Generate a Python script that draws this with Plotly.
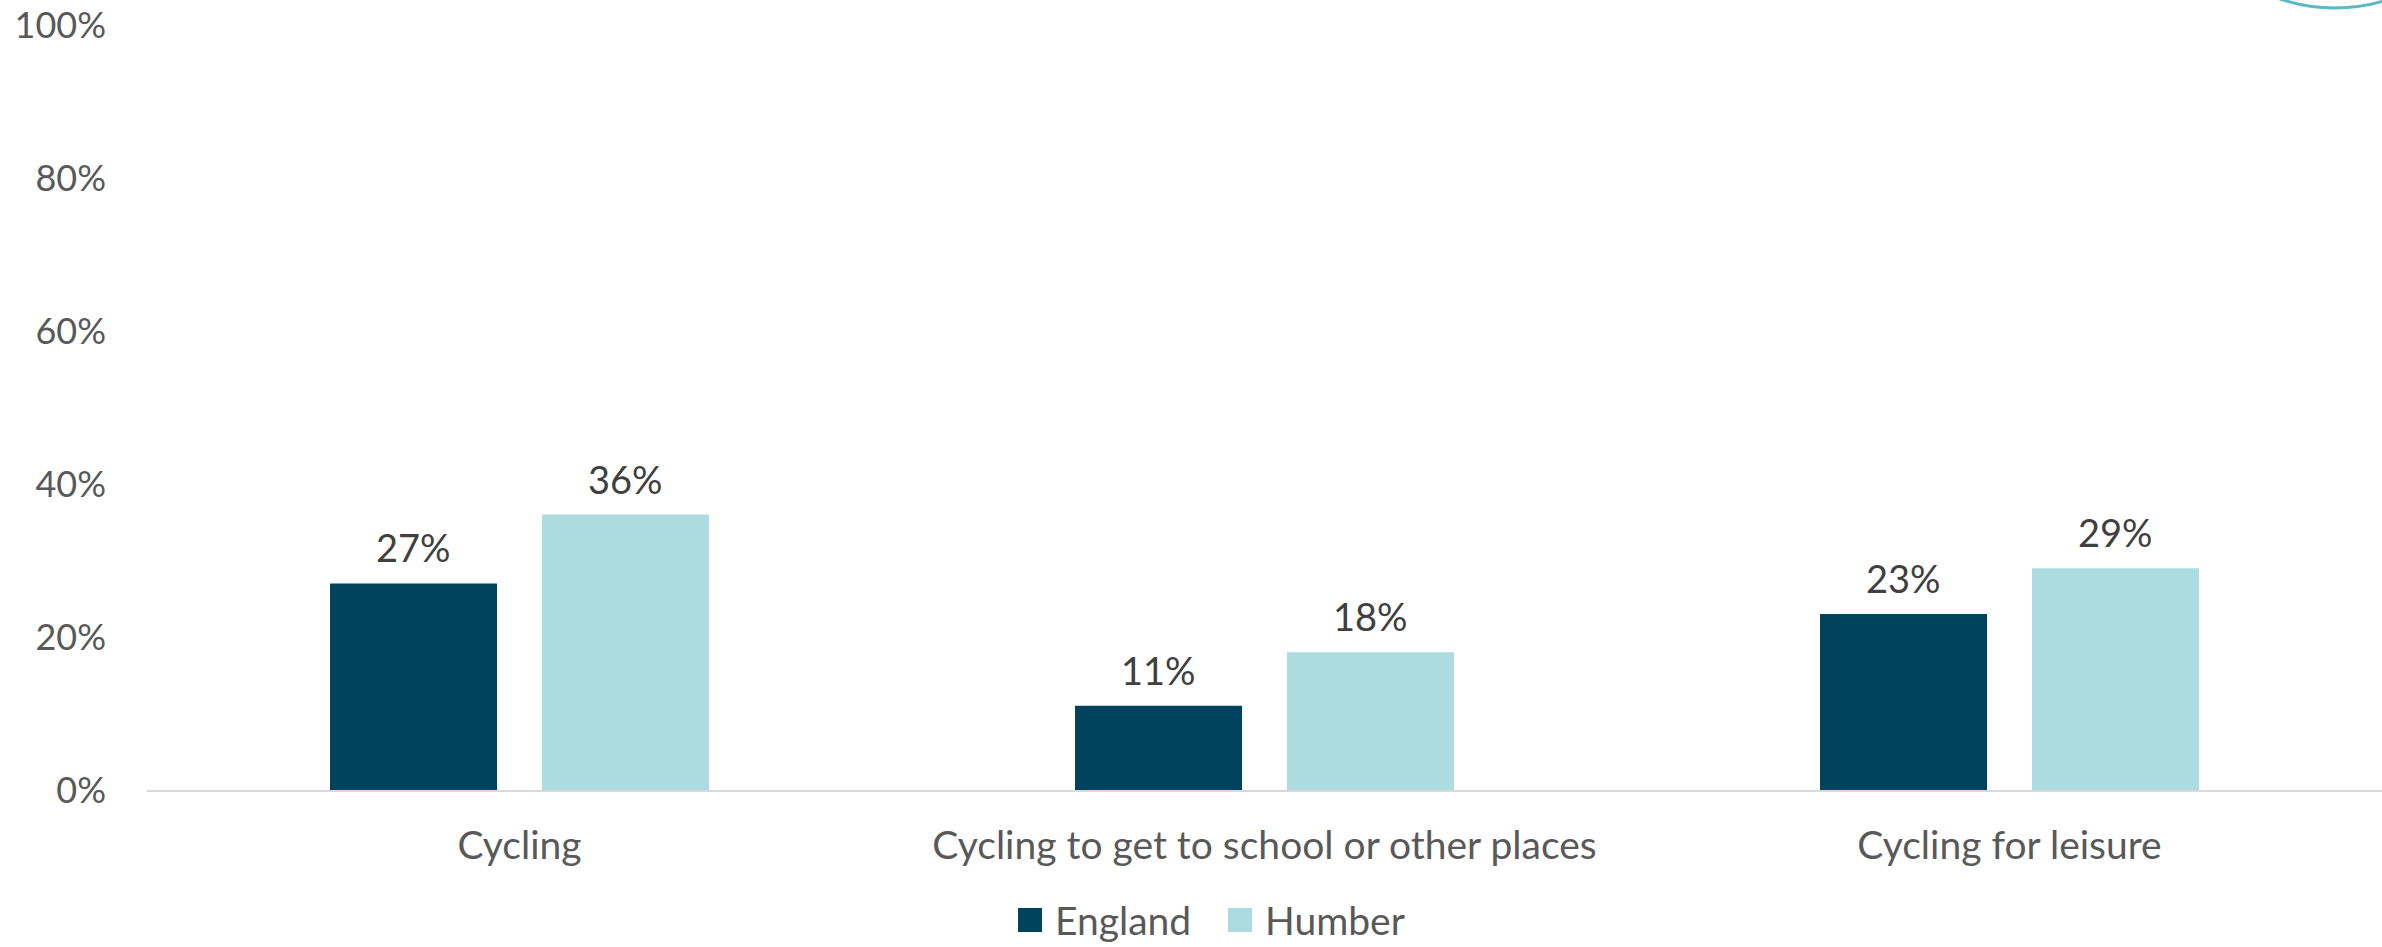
import plotly.graph_objects as go

# Share of children cycling, by activity
categories = ["Cycling", "Cycling to get to school or other places", "Cycling for leisure"]
england = [27, 11, 23]
humber = [36, 18, 29]
series_names = ["England", "Humber"]
y_ticks = [0, 20, 40, 60, 80, 100]
y_tick_labels = ["0%", "20%", "40%", "60%", "80%", "100%"]

W, H = 2382, 947
ML, MR, MT, MB = 147, 0, 25, 157
BARGAP, BARGROUPGAP = 0.431, 0.212

FONT = "Lato, 'Open Sans', sans-serif"
COLORS = ["#01435E", "#ADDCE0"]

fig = go.Figure()
for name, values, color in zip(series_names, [england, humber], COLORS):
    fig.add_trace(go.Bar(
        name=name, x=categories, y=values,
        marker=dict(color=color, line=dict(width=0)),
        showlegend=False, hoverinfo="x+y",
    ))

# Value labels above each bar, centred on the bar's slot within its group
slot = (1 - BARGAP) / len(series_names)
for s, values in enumerate([england, humber]):
    offset = -((1 - BARGAP) / 2) + slot * (s + 0.5)
    for i, v in enumerate(values):
        fig.add_annotation(
            x=i + offset, y=v, xref="x", yref="y",
            text=f"{v}%", showarrow=False,
            xanchor="center", yanchor="middle", yshift=36,
            font=dict(family=FONT, size=38, color="#404040"),
        )


def px_to_paper_x(px):
    return (px - ML) / (W - ML - MR)


def px_to_paper_y(py):
    return (H - MB - py) / (H - MT - MB)


# Legend: square swatch followed by series name
legend_items = [(1018, "England", COLORS[0]), (1228, "Humber", COLORS[1])]
for left, label, color in legend_items:
    fig.add_shape(
        type="rect", xref="paper", yref="paper",
        x0=px_to_paper_x(left), x1=px_to_paper_x(left + 24),
        y0=px_to_paper_y(932), y1=px_to_paper_y(908),
        fillcolor=color, line=dict(width=0),
    )
    fig.add_annotation(
        x=px_to_paper_x(left + 35), y=px_to_paper_y(920),
        xref="paper", yref="paper", text=label, showarrow=False,
        xanchor="left", yanchor="middle",
        font=dict(family=FONT, size=39, color="#595959"),
    )

# Partial ring of the logo peeking in at the top right corner
fig.add_shape(
    type="circle", xref="paper", yref="paper",
    x0=px_to_paper_x(2162), x1=px_to_paper_x(2508),
    y0=px_to_paper_y(8), y1=px_to_paper_y(-338),
    line=dict(color="#5BB8C6", width=3), fillcolor="rgba(0,0,0,0)",
)

fig.update_layout(
    width=W, height=H,
    margin=dict(l=ML, r=MR, t=MT, b=MB, pad=0, autoexpand=False),
    paper_bgcolor="white", plot_bgcolor="white",
    barmode="group", bargap=BARGAP, bargroupgap=BARGROUPGAP,
    font=dict(family=FONT, size=36, color="#595959"),
    showlegend=False,
    xaxis=dict(
        showgrid=False, showline=True, linecolor="#D9D9D9", linewidth=2,
        ticks="", tickfont=dict(family=FONT, size=39, color="#595959"),
        ticklabelstandoff=20, fixedrange=True, automargin=False,
    ),
    yaxis=dict(
        range=[0, 100], tickvals=y_ticks, ticktext=y_tick_labels,
        showgrid=False, zeroline=False, showline=False, ticks="",
        tickfont=dict(family=FONT, size=36, color="#595959"),
        ticklabelstandoff=40, fixedrange=True, automargin=False,
    ),
)

fig.write_html("out.html")
